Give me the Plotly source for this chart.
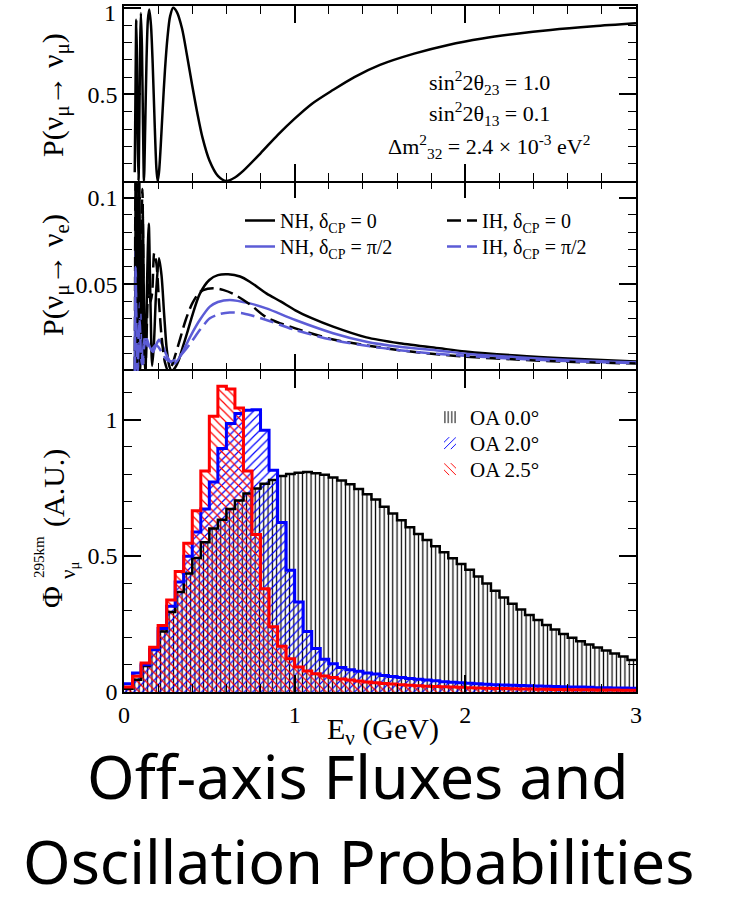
import plotly.graph_objects as go

# ---------------- data ----------------
# Top panel: P(numu -> numu)
E_MUMU = [0.063, 0.068, 0.072, 0.076, 0.080, 0.085, 0.090, 0.095, 0.099, 0.105, 0.111, 0.117,
          0.124, 0.132, 0.140, 0.148, 0.158, 0.168, 0.180, 0.190, 0.197, 0.205, 0.215, 0.227,
          0.240, 0.255, 0.270, 0.288, 0.310, 0.340, 0.370, 0.400, 0.430, 0.460, 0.500, 0.550,
          0.600, 0.650, 0.700, 0.800, 0.900, 1.000, 1.100, 1.224, 1.350, 1.500, 1.700, 1.900,
          2.100, 2.300, 2.500, 2.750, 3.000]
P_MUMU = [0.05, 0.60, 0.93, 0.70, 0.25, 0.00, 0.35, 0.80, 0.97, 0.78, 0.35, 0.00,
          0.30, 0.70, 0.93, 0.99, 0.90, 0.68, 0.32, 0.07, 0.00, 0.05, 0.20, 0.42,
          0.64, 0.83, 0.95, 1.00, 0.975, 0.88, 0.72, 0.55, 0.39, 0.25, 0.12, 0.03,
          0.00, 0.02, 0.06, 0.16, 0.265, 0.36, 0.445, 0.525, 0.60, 0.67, 0.735, 0.785,
          0.822, 0.85, 0.872, 0.893, 0.91]

# Middle panel: P(numu -> nue)
E_NH0 = [0.064, 0.068, 0.072, 0.076, 0.080, 0.085, 0.090, 0.096, 0.102, 0.110, 0.118, 0.126,
         0.135, 0.145, 0.155, 0.165, 0.175, 0.188, 0.205, 0.220, 0.235, 0.250, 0.265, 0.280,
         0.300, 0.320, 0.345, 0.370, 0.400, 0.444, 0.500, 0.550, 0.610, 0.680, 0.737, 0.834,
         0.920, 1.004, 1.100, 1.225, 1.420, 1.614, 1.848, 2.000, 2.300, 2.600, 3.000]
P_NH0 = [0.0, 0.06, 0.115, 0.04, 0.0, 0.06, 0.112, 0.03, 0.005, 0.09, 0.03, 0.0,
         0.05, 0.085, 0.04, 0.003, 0.015, 0.045, 0.065, 0.055, 0.033, 0.013, 0.003, 0.0,
         0.002, 0.006, 0.014, 0.022, 0.032, 0.0445, 0.0525, 0.0553, 0.0558, 0.0545, 0.0515, 0.0448,
         0.040, 0.035, 0.0305, 0.0256, 0.0194, 0.0160, 0.0131, 0.0113, 0.0089, 0.0072, 0.0055]

E_IH0 = [0.064, 0.067, 0.071, 0.075, 0.079, 0.084, 0.089, 0.095, 0.101, 0.108, 0.116, 0.125,
         0.135, 0.145, 0.155, 0.165, 0.177, 0.190, 0.205, 0.220, 0.240, 0.260, 0.280, 0.300,
         0.330, 0.360, 0.400, 0.444, 0.490, 0.530, 0.580, 0.640, 0.737, 0.834, 1.004, 1.225,
         1.420, 1.614, 1.848, 2.000, 2.300, 2.600, 3.000]
P_IH0 = [0.0, 0.11, 0.03, 0.0, 0.09, 0.11, 0.02, 0.0, 0.07, 0.105, 0.03, 0.0,
         0.03, 0.06, 0.04, 0.045, 0.068, 0.062, 0.04, 0.02, 0.005, 0.0, 0.003, 0.009,
         0.019, 0.029, 0.039, 0.0455, 0.0474, 0.0477, 0.0468, 0.0445, 0.0385, 0.031, 0.0246, 0.0182,
         0.0148, 0.0120, 0.0095, 0.0083, 0.0066, 0.0053, 0.0043]

E_NHPI2 = [0.064, 0.068, 0.072, 0.076, 0.080, 0.085, 0.090, 0.094, 0.099, 0.105, 0.112, 0.118,
           0.125, 0.136, 0.150, 0.170, 0.188, 0.205, 0.225, 0.250, 0.275, 0.298, 0.330, 0.366,
           0.400, 0.444, 0.503, 0.550, 0.620, 0.737, 0.834, 1.004, 1.225, 1.420, 1.614, 1.848,
           2.000, 2.300, 2.600, 3.000]
P_NHPI2 = [0.0, 0.072, 0.035, 0.008, 0.0, 0.015, 0.035, 0.040, 0.02, 0.006, 0.004, 0.016,
           0.02, 0.018, 0.014, 0.011, 0.015, 0.018, 0.015, 0.009, 0.005, 0.0044, 0.0085, 0.0155,
           0.022, 0.0294, 0.0371, 0.0398, 0.041, 0.039, 0.0361, 0.0294, 0.0218, 0.0169, 0.0140, 0.0117,
           0.0100, 0.0080, 0.0064, 0.0050]

E_IHPI2 = [0.064, 0.068, 0.072, 0.076, 0.080, 0.086, 0.092, 0.098, 0.105, 0.112, 0.120, 0.130,
           0.140, 0.152, 0.168, 0.185, 0.200, 0.220, 0.245, 0.270, 0.300, 0.350, 0.400, 0.444,
           0.503, 0.560, 0.620, 0.700, 0.834, 1.004, 1.225, 1.420, 1.614, 1.848, 2.000, 2.300,
           2.600, 3.000]
P_IHPI2 = [0.0, 0.06, 0.03, 0.005, 0.0, 0.02, 0.03, 0.012, 0.004, 0.008, 0.015, 0.017,
           0.014, 0.012, 0.013, 0.015, 0.014, 0.011, 0.007, 0.0055, 0.0065, 0.011, 0.0175, 0.0236,
           0.0304, 0.0328, 0.0337, 0.0332, 0.0294, 0.0236, 0.0179, 0.0146, 0.0120, 0.0098, 0.0088, 0.0070,
           0.0057, 0.0045]

# Bottom panel: flux histograms, 60 bins of 0.05 GeV from 0 to 3 GeV
BIN_WIDTH = 0.05
FLUX_OA00 = [0.012, 0.045, 0.095, 0.155, 0.222, 0.294, 0.367, 0.435, 0.492, 0.550,
             0.600, 0.632, 0.672, 0.703, 0.728, 0.747, 0.764, 0.778, 0.793, 0.800,
             0.805, 0.807, 0.803, 0.797, 0.787, 0.776, 0.762, 0.745, 0.726, 0.706,
             0.680, 0.655, 0.630, 0.605, 0.580, 0.558, 0.535, 0.513, 0.491, 0.470,
             0.449, 0.424, 0.398, 0.372, 0.347, 0.324, 0.303, 0.283, 0.264, 0.246,
             0.229, 0.213, 0.199, 0.186, 0.174, 0.163, 0.152, 0.141, 0.130, 0.117]
FLUX_OA20 = [0.030, 0.070, 0.100, 0.155, 0.233, 0.315, 0.404, 0.498, 0.587, 0.672,
             0.771, 0.894, 0.985, 1.022, 1.034, 1.036, 0.961, 0.814, 0.622, 0.447,
             0.330, 0.222, 0.160, 0.120, 0.104, 0.090, 0.082, 0.076, 0.070, 0.066,
             0.061, 0.057, 0.053, 0.050, 0.047, 0.044, 0.041, 0.038, 0.036, 0.034,
             0.032, 0.030, 0.028, 0.027, 0.026, 0.025, 0.024, 0.023, 0.022, 0.021,
             0.020, 0.019, 0.018, 0.018, 0.017, 0.016, 0.016, 0.015, 0.015, 0.014]
FLUX_OA25 = [0.018, 0.058, 0.106, 0.164, 0.244, 0.338, 0.442, 0.546, 0.665, 0.811,
             1.012, 1.122, 1.112, 1.042, 0.811, 0.578, 0.379, 0.239, 0.168, 0.122,
             0.092, 0.077, 0.067, 0.059, 0.053, 0.048, 0.044, 0.040, 0.037, 0.034,
             0.031, 0.029, 0.027, 0.025, 0.023, 0.021, 0.020, 0.019, 0.018, 0.017,
             0.016, 0.015, 0.014, 0.013, 0.013, 0.012, 0.011, 0.011, 0.010, 0.010,
             0.009, 0.009, 0.008, 0.008, 0.008, 0.007, 0.007, 0.007, 0.006, 0.006]

X_TICKS = [0, 1, 2, 3]
X_TICK_TEXT = ["0", "1", "2", "3"]

# ---------------- styling ----------------
SERIF = "Liberation Serif"
BLUE_LINE = "#5c5cd6"
PLOT_H = 686.0
nbins = len(FLUX_OA00)
centers = [BIN_WIDTH * (k + 0.5) for k in range(nbins)]
edges = [BIN_WIDTH * k for k in range(nbins + 1)]


def py(page_y):
    """page pixel row -> paper fraction"""
    return (692.0 - page_y) / PLOT_H


def px(page_x):
    return (page_x - 124.0) / 512.0


fig = go.Figure()

# top panel curve
fig.add_trace(go.Scatter(x=E_MUMU, y=P_MUMU, mode="lines", xaxis="x3", yaxis="y3",
                         line=dict(color="black", width=2.5, shape="spline", smoothing=0.8),
                         showlegend=False, hoverinfo="skip"))

# middle panel curves (each legend entry placed as its own one-item legend)
mid = [
    ("NH, δ<sub>CP</sub> = 0", E_NH0, P_NH0, "black", "solid", "legend2"),
    ("NH, δ<sub>CP</sub> = π/2", E_NHPI2, P_NHPI2, BLUE_LINE, "solid", "legend3"),
    ("IH, δ<sub>CP</sub> = 0", E_IH0, P_IH0, "black", "14px,6px", "legend4"),
    ("IH, δ<sub>CP</sub> = π/2", E_IHPI2, P_IHPI2, BLUE_LINE, "14px,6px", "legend5"),
]
for name, ex, pv, col, dash, leg in mid:
    fig.add_trace(go.Scatter(x=ex, y=pv, mode="lines", xaxis="x2", yaxis="y2", name=name,
                             line=dict(color=col, width=2.5, dash=dash, shape="spline", smoothing=0.8),
                             legend=leg, hoverinfo="skip"))

# bottom panel hatched histograms
hists = [
    ("OA 0.0°", FLUX_OA00, "black", "|", 4.3, 0.28, 2.5, "legend"),
    ("OA 2.0°", FLUX_OA20, "#0000ff", "/", 6.0, 0.2, 3.0, "legend6"),
    ("OA 2.5°", FLUX_OA25, "#ff0000", "\\", 6.0, 0.2, 3.0, "legend7"),
]
for name, vals, col, shape, size, sol, lw, leg in hists:
    fig.add_trace(go.Bar(x=centers, y=vals, width=BIN_WIDTH, xaxis="x", yaxis="y", name=name,
                         marker=dict(color=col, line=dict(width=0),
                                     pattern=dict(shape=shape, fillmode="replace", size=size,
                                                  solidity=sol, fgcolor=col)),
                         legend=leg, hoverinfo="skip"))
for name, vals, col, shape, size, sol, lw, leg in hists:
    fig.add_trace(go.Scatter(x=edges, y=list(vals) + [vals[-1]], mode="lines", xaxis="x", yaxis="y",
                             line=dict(color=col, width=lw, shape="hv"), showlegend=False,
                             hoverinfo="skip"))

# ---------------- layout ----------------
tickfont = dict(family=SERIF, size=24, color="black")


def xax(anchor, labels, line):
    return dict(range=[0, 3], anchor=anchor, showline=line, linecolor="black", linewidth=1.5,
                mirror="ticks", ticks="inside", ticklen=17, tickwidth=1.5, tickcolor="black",
                tickmode="array", tickvals=X_TICKS, ticktext=X_TICK_TEXT, showticklabels=labels,
                ticklabeloverflow="allow", automargin=False,
                minor=dict(ticks="inside", ticklen=8, tickwidth=1.2, tickcolor="black",
                           tickmode="linear", tick0=0, dtick=0.2),
                showgrid=False, zeroline=False, tickfont=tickfont)


def yax(dom, rng, tv, tt, mdt, anchor):
    return dict(domain=dom, range=rng, anchor=anchor, showline=True, linecolor="black", linewidth=1.5,
                mirror="ticks", ticks="inside", ticklen=17, tickwidth=1.5, tickcolor="black",
                tickmode="array", tickvals=tv, ticktext=tt, ticklabeloverflow="allow",
                automargin=False,
                minor=dict(ticks="inside", ticklen=8, tickwidth=1.2, tickcolor="black",
                           tickmode="linear", tick0=0, dtick=mdt),
                showgrid=False, zeroline=False, tickfont=tickfont)


d1 = py(371)
d2 = py(181)
y1 = yax([0, d1], [0, 1.178], [0, 0.5, 1], ["0", "0.5", "1"], 0.1, "x")
y2 = yax([d1, d2], [0, 0.1096], [0.05, 0.1], ["0.05", "0.1"], 0.01, "x2")
# the "1" label of the top panel sits at the frame edge; it is drawn as an annotation below
y3 = yax([d2, 1.0], [0, 1.01], [0.5, 1], ["0.5", ""], 0.1, "x3")

x1 = xax("y", True, True)
x2 = xax("y2", False, False)
x2["matches"] = "x"
x3 = xax("y3", False, True)
x3["matches"] = "x"

txt = dict(family=SERIF, color="black")
annotations = [
    # top panel "1" tick label, nudged inside the page like the reference
    dict(x=px(118), y=py(13), xref="paper", yref="paper", text="1", showarrow=False,
         xanchor="right", yanchor="middle", font=dict(size=24, **txt)),
    # top panel parameter text
    dict(x=2.14, y=0.571, xref="x3", yref="y3", text="sin<sup>2</sup>2θ<sub>23</sub> = 1.0",
         showarrow=False, font=dict(size=22, **txt)),
    dict(x=2.14, y=0.387, xref="x3", yref="y3", text="sin<sup>2</sup>2θ<sub>13</sub> = 0.1",
         showarrow=False, font=dict(size=22, **txt)),
    dict(x=2.14, y=0.202, xref="x3", yref="y3",
         text="Δm<sup>2</sup><sub>32</sub> = 2.4 × 10<sup>-3</sup> eV<sup>2</sup>",
         showarrow=False, font=dict(size=22, **txt)),
    # y titles
    dict(x=px(55), y=py(95), xref="paper", yref="paper", text="P(ν<sub>μ</sub>→ ν<sub>μ</sub>)",
         textangle=-90, showarrow=False, xanchor="center", yanchor="middle", font=dict(size=30, **txt)),
    dict(x=px(55), y=py(275), xref="paper", yref="paper", text="P(ν<sub>μ</sub>→ ν<sub>e</sub>)",
         textangle=-90, showarrow=False, xanchor="center", yanchor="middle", font=dict(size=30, **txt)),
    dict(x=px(51), y=py(597), xref="paper", yref="paper", text="Φ",
         textangle=-90, showarrow=False, xanchor="center", yanchor="middle", font=dict(size=30, **txt)),
    dict(x=px(39), y=py(557), xref="paper", yref="paper", text="295km",
         textangle=-90, showarrow=False, xanchor="center", yanchor="middle", font=dict(size=15, **txt)),
    dict(x=px(69), y=py(570), xref="paper", yref="paper", text="ν<sub>μ</sub>",
         textangle=-90, showarrow=False, xanchor="center", yanchor="middle", font=dict(size=21, **txt)),
    dict(x=px(54), y=py(488), xref="paper", yref="paper", text="(A.U.)",
         textangle=-90, showarrow=False, xanchor="center", yanchor="middle", font=dict(size=30, **txt)),
    # x title
    dict(x=px(383), y=py(731), xref="paper", yref="paper", text="E<sub>ν</sub> (GeV)",
         showarrow=False, xanchor="center", yanchor="middle", font=dict(size=30, **txt)),
    # big caption
    dict(x=px(358), y=py(775), xref="paper", yref="paper", text="Off-axis Fluxes and",
         showarrow=False, xanchor="center", yanchor="middle",
         font=dict(family="Noto Sans", size=61, color="black")),
    dict(x=px(358), y=py(861), xref="paper", yref="paper", text="Oscillation Probabilities",
         showarrow=False, xanchor="center", yanchor="middle",
         font=dict(family="Noto Sans", size=61, color="black")),
]


def one_legend(left, top, size):
    return dict(x=px(left), y=py(top), xanchor="left", yanchor="top", bgcolor="rgba(0,0,0,0)",
                font=dict(size=size, **txt))


fig.update_layout(
    width=745, height=906,
    margin=dict(l=124, r=109, t=6, b=214, autoexpand=False),
    paper_bgcolor="white", plot_bgcolor="white",
    barmode="overlay", bargap=0,
    xaxis=x1, xaxis2=x2, xaxis3=x3,
    yaxis=y1, yaxis2=y2, yaxis3=y3,
    annotations=annotations,
    legend=one_legend(430, 397, 21),
    legend6=one_legend(430, 423, 21),
    legend7=one_legend(430, 449, 21),
    legend2=one_legend(240, 201, 20),
    legend3=one_legend(240, 227, 20),
    legend4=one_legend(442, 201, 20),
    legend5=one_legend(442, 227, 20),
    showlegend=True,
)

fig.write_html("out.html", config={"displayModeBar": False},
               post_script="document.body.style.margin='0px';")
